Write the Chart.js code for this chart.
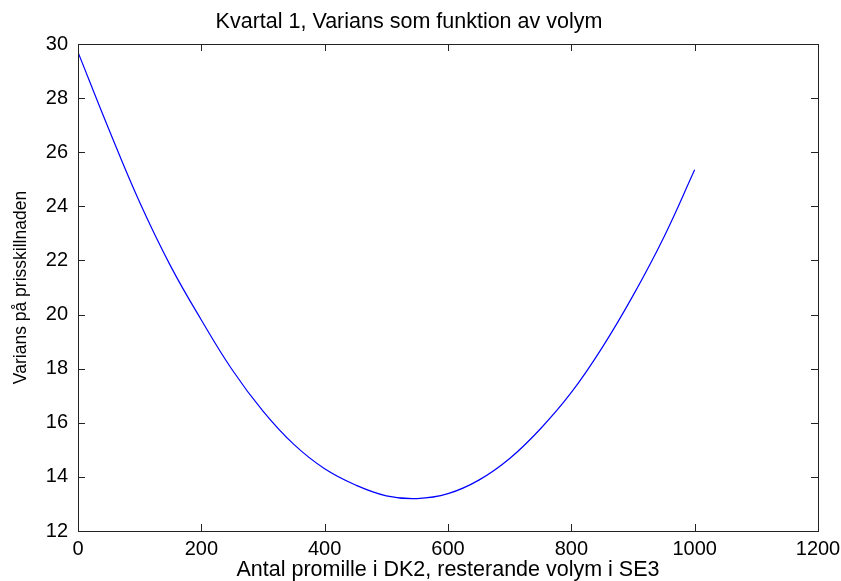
<!DOCTYPE html>
<html>
<head>
<meta charset="utf-8">
<script src="https://cdn.jsdelivr.net/npm/chart.js@4.4.1/dist/chart.umd.min.js"></script>
<style>
  html, body { margin: 0; padding: 0; background: #fff; }
  canvas { display: block; }
</style>
</head>
<body>
<canvas id="varChart" width="841" height="581"></canvas>
<script>
// volume in DK2 (promille) and the variance
const volym = [0, 50, 100, 150, 200, 250, 300, 350, 400, 450, 500,
               550, 600, 650, 700, 750, 800, 850, 900, 950, 1000];
const varians = [29.7, 26.85, 24.15, 21.8, 19.8, 17.96, 16.43, 15.2, 14.3, 13.7, 13.3,
                 13.2, 13.38, 13.88, 14.68, 15.78, 17.12, 18.78, 20.7, 22.86, 25.35];

const xTicks = [0, 200, 400, 600, 800, 1000, 1200];
const yTicks = [12, 14, 16, 18, 20, 22, 24, 26, 28, 30];

const fam = "'Liberation Sans', Arial, sans-serif";
const tickFont = { family: fam, size: 20, lineHeight: 1 };
const titleFont = { family: fam, size: 21.5, lineHeight: 1, weight: "normal" };

// box round the plot with inward ticks on all four sides (matlab style)
const boxPlugin = {
  id: "box",
  afterDraw(chart) {
    const { ctx, chartArea: a, scales } = chart;
    const len = 7;
    ctx.save();
    ctx.strokeStyle = "#222";
    ctx.lineWidth = 1;
    ctx.beginPath();
    scales.x.ticks.forEach(t => {
      const px = Math.round(scales.x.getPixelForValue(t.value)) + 0.5;
      ctx.moveTo(px, a.bottom); ctx.lineTo(px, a.bottom - len);
      ctx.moveTo(px, a.top); ctx.lineTo(px, a.top + len);
    });
    scales.y.ticks.forEach(t => {
      const py = Math.round(scales.y.getPixelForValue(t.value)) + 0.5;
      ctx.moveTo(a.left, py); ctx.lineTo(a.left + len, py);
      ctx.moveTo(a.right, py); ctx.lineTo(a.right - len, py);
    });
    ctx.stroke();
    ctx.strokeRect(Math.round(a.left) + 0.5, Math.round(a.top) + 0.5,
                   Math.round(a.right - a.left), Math.round(a.bottom - a.top));
    ctx.restore();
  }
};

const ctx = document.getElementById("varChart").getContext("2d");
new Chart(ctx, {
  type: "line",
  data: {
    datasets: [{
      data: volym.map((v, i) => ({ x: v, y: varians[i] })),
      borderColor: "#0000ff",
      borderWidth: 1.2,
      pointRadius: 0,
      tension: 0.4,
      fill: false
    }]
  },
  options: {
    responsive: false,
    animation: false,
    devicePixelRatio: 1,
    layout: { padding: { left: 0, right: 23, top: 0, bottom: 0 } },
    plugins: {
      legend: { display: false },
      tooltip: { enabled: false },
      title: {
        display: true,
        text: "Kvartal 1, Varians som funktion av volym",
        color: "#000",
        font: titleFont,
        padding: { top: 11, bottom: 11.5 }
      }
    },
    scales: {
      x: {
        type: "linear",
        min: 0,
        max: 1200,
        afterBuildTicks: s => { s.ticks = xTicks.map(v => ({ value: v })); },
        afterFit: s => { s.height = 50; s.paddingLeft = 0; s.paddingRight = 0; },
        grid: { display: false, drawTicks: false },
        border: { display: false },
        ticks: {
          color: "#000", font: tickFont, padding: 8, maxRotation: 0, autoSkip: false,
          callback: v => String(v)
        },
        title: {
          display: true,
          text: "Antal promille i DK2, resterande volym i SE3",
          color: "#000",
          font: titleFont,
          padding: { top: 0, bottom: 0 }
        }
      },
      y: {
        min: 12,
        max: 30,
        afterBuildTicks: s => { s.ticks = yTicks.map(v => ({ value: v })); },
        afterFit: s => { s.width = 78; s.paddingTop = 0; s.paddingBottom = 0; },
        grid: { display: false, drawTicks: false },
        border: { display: false },
        ticks: { color: "#000", font: tickFont, padding: 10, autoSkip: false, callback: v => String(v) },
        title: {
          display: true,
          text: "Varians på prisskillnaden",
          color: "#000",
          font: { family: fam, size: 17.5, lineHeight: 1 },
          padding: { top: 12, bottom: 0 }
        }
      }
    }
  },
  plugins: [boxPlugin]
});
</script>
</body>
</html>
